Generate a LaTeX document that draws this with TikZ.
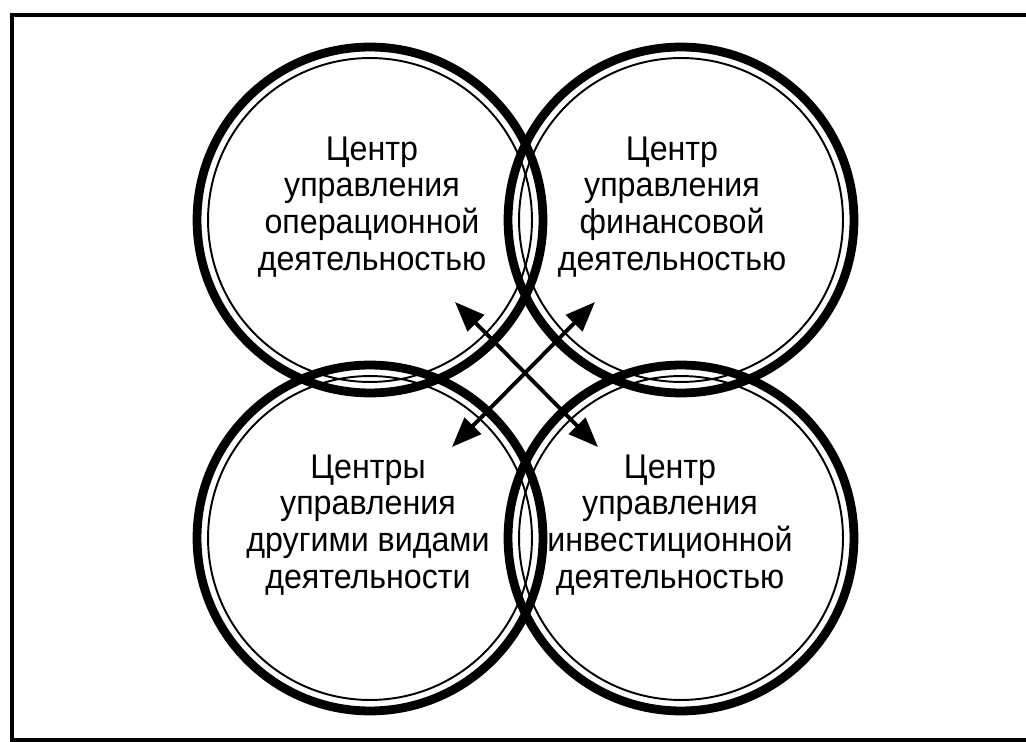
\documentclass[tikz,border=0pt]{standalone}
\usepackage{fontspec}
\setmainfont[FakeStretch=0.94]{Liberation Sans}
\usetikzlibrary{arrows.meta,positioning}

\begin{document}
\begin{tikzpicture}[
  x=0.02cm, y=-0.02cm,
  ring/.style={circle, draw, line width=5pt, minimum size=6.92cm, inner sep=0pt},
  inring/.style={line width=1.1pt},
  caption/.style={align=center, font=\fontsize{19.5}{21}\selectfont},
  link/.style={{Triangle[length=17pt,width=13pt]}-{Triangle[length=17pt,width=13pt]}, line width=2.2pt}
]
\useasboundingbox (0,0) rectangle (1026,742);

% Frame
\draw[line width=1.8pt] (1045,15) -- (12,15) -- (12,740) -- (1045,740);

% Rings
\node[ring] (opc) at (370,220) {};
\node[ring] (fin) at (681,220) {};
\node[ring] (oth) at (370,538) {};
\node[ring] (inv) at (681,538) {};
\foreach \c in {opc,fin,oth,inv}
  \draw[inring] (\c.center) circle[radius=3.24cm];

% Captions
\node[caption] (opct) at (372,207) {Центр\\управления\\операционной\\деятельностью};
\node[caption] (fint) at (672,207) {Центр\\управления\\финансовой\\деятельностью};
\node[caption] (otht) at (368,525) {Центры\\управления\\другими видами\\деятельности};
\node[caption] (invt) at (670,525) {Центр\\управления\\инвестиционной\\деятельностью};

% Links
\coordinate (nw) at (455,302);
\coordinate (se) at (598,447);
\coordinate (ne) at (595,302);
\coordinate (sw) at (452,447);
\draw[link] (nw) -- (se);
\draw[link] (ne) -- (sw);
\end{tikzpicture}
\end{document}
